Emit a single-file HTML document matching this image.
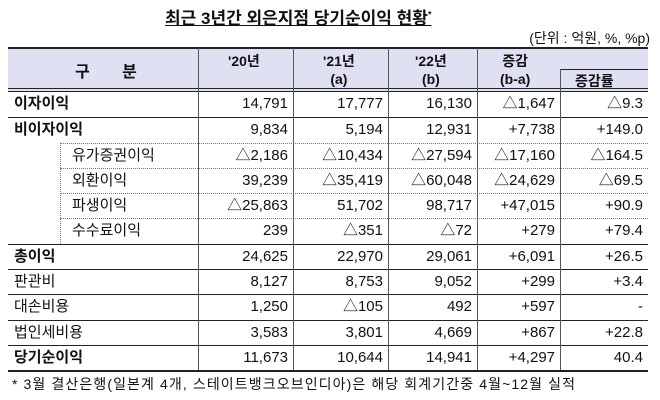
<!DOCTYPE html>
<html><head><meta charset="utf-8">
<style>
body{margin:0;width:660px;height:400px;background:#fff;position:relative;font-family:"Liberation Sans","Noto Sans CJK KR",sans-serif;color:#111;overflow:hidden}
.a{position:absolute;white-space:nowrap}
.c{position:absolute;height:25px;line-height:25px;font-size:15px;white-space:nowrap}
.r{text-align:right}
.b{font-weight:bold}
.hl{position:absolute;height:0;border-top:1px solid #222}
.vl{position:absolute;width:0;border-left:1px solid #555}
</style></head><body>
<div class="a b" style="left:165px;top:4px;font-size:17px;text-decoration:underline;letter-spacing:0px">최근 3년간 외은지점 당기순이익 현황<sup style="font-size:9px">*</sup></div>
<div class="a" style="right:10px;top:28px;font-size:14px">(단위 : 억원, %, %p)</div>
<div style="position:absolute;left:8px;top:48px;width:640px;height:43px;background:#dfe1f2"></div>
<div class="hl" style="left:8px;top:47px;width:640px;border-top:2px solid #222"></div>
<div class="hl" style="left:8px;top:88px;width:640px"></div>
<div class="hl" style="left:8px;top:91px;width:640px"></div>
<div class="hl" style="left:560px;top:69px;width:88px"></div>
<div class="a b" style="left:75px;top:58px;font-size:16px;word-spacing:28px">구 분</div>
<div class="a b" style="left:228px;top:51px;font-size:14px">'20년</div>
<div class="a b" style="left:323px;top:51px;font-size:14px;text-align:center">'21년<br>(a)</div>
<div class="a b" style="left:415px;top:51px;font-size:14px;text-align:center">'22년<br>(b)</div>
<div class="a b" style="left:500px;top:51px;font-size:14px;text-align:center">증감<br>(b-a)</div>
<div class="a b" style="left:575px;top:71px;font-size:14px">증감률</div>
<div id="rows"></div>
<div class="hl" style="left:8px;top:370px;width:640px;border-top:2px solid #222"></div>
<div class="a" style="left:12px;top:374px;font-size:14px;letter-spacing:1.1px">*  3월 결산은행(일본계 4개, 스테이트뱅크오브인디아)은 해당 회계기간중 4월~12월 실적</div>
<script>
const labels=["이자이익","비이자이익","유가증권이익","외환이익","파생이익","수수료이익","총이익","판관비","대손비용","법인세비용","당기순이익"];
const y20=["14,791","9,834","△2,186","39,239","△25,863","239","24,625","8,127","1,250","3,583","11,673"];
const y21=["17,777","5,194","△10,434","△35,419","51,702","△351","22,970","8,753","△105","3,801","10,644"];
const y22=["16,130","12,931","△27,594","△60,048","98,717","△72","29,061","9,052","492","4,669","14,941"];
const chg=["△1,647","+7,738","△17,160","△24,629","+47,015","+279","+6,091","+299","+597","+867","+4,297"];
const rate=["△9.3","+149.0","△164.5","△69.5","+90.9","+79.4","+26.5","+3.4","-","+22.8","40.4"];
const bold=[1,1,0,0,0,0,1,0,0,0,1];
const sub=[0,0,1,1,1,1,0,0,0,0,0];
const tops=[91,117,143,168,193,218,244,269,294,320,345];
const R=document.getElementById('rows');
function add(h){R.insertAdjacentHTML('beforeend',h);}
labels.forEach((l,i)=>{
  const t=tops[i];
  const lx=sub[i]?72:14;
  add(`<div class="c ${bold[i]?'b':''}" style="left:${lx}px;top:${t}px">${l}</div>`);
  const cols=[[198,293,y20],[293,388,y21],[388,477,y22],[477,560,chg],[560,648,rate]];
  cols.forEach(c=>{add(`<div class="c r" style="left:${c[0]}px;width:${c[1]-c[0]-5}px;top:${t}px">${c[2][i]}</div>`);});
  if(i>0){
    if(sub[i]) add(`<div class="hl" style="left:60px;top:${t}px;width:500px;border-top:1px dotted #777"></div><div class="hl" style="left:560px;top:${t}px;width:88px;border-top:1px dotted #777"></div>`);
    else add(`<div class="hl" style="left:8px;top:${t}px;width:640px"></div>`);
  }
});
add(`<div class="vl" style="left:60px;top:143px;height:101px;border-left:1px dotted #777"></div>`);
[198,293,388,477].forEach(x=>add(`<div class="vl" style="left:${x}px;top:48px;height:322px"></div>`));
add(`<div class="vl" style="left:560px;top:69px;height:301px"></div>`);
</script>
</body></html>
